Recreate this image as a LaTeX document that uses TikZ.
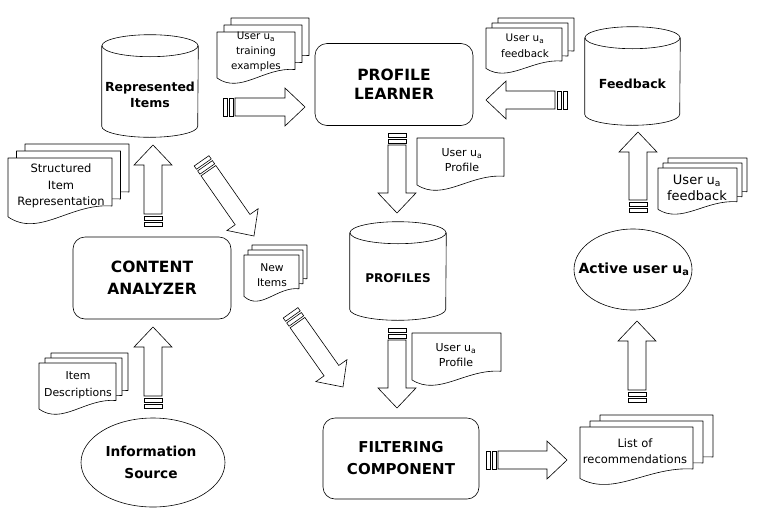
\documentclass[tikz,border=0pt]{standalone}
\usepackage{fontspec}
\setmainfont{DejaVu Sans}
\usetikzlibrary{shapes.geometric,calc,positioning}

% one page of a document, l t r b (b = lowest point of the wave)
\newcommand{\docpage}[4]{%
  \draw[page] ({#1},{#2}) -- ({#3},{#2}) -- ({#3},{(#4)-0.25*((#4)-(#2))})
    .. controls ({(#1)+0.6*((#3)-(#1))},{(#4)-0.3*((#4)-(#2))})
       and ({(#1)+0.3*((#3)-(#1))},{(#4)+0.25*((#4)-(#2))})
    .. ({#1},{(#4)-0.08*((#4)-(#2))}) -- cycle;}
% three pages, shifted by dx dy
\newcommand{\docstack}[6]{%
  \docpage{(#1)+2*(#5)}{(#2)-2*(#6)}{(#3)+2*(#5)}{(#4)-2*(#6)}
  \docpage{(#1)+(#5)}{(#2)-(#6)}{(#3)+(#5)}{(#4)-(#6)}
  \docpage{#1}{#2}{#3}{#4}}
% drum outline round a store node, #2 = half width
\newcommand{\drum}[2]{%
  \draw ([yshift=-11pt]#1.north west) -- ([yshift=11pt]#1.south west)
    arc[start angle=180,end angle=360,x radius=#2pt,y radius=11pt]
    -- ([yshift=-11pt]#1.north east);
  \draw ([yshift=-11pt]#1.north) ellipse[x radius=#2pt,y radius=11pt];}
% big arrow with striped tail
\newcommand{\bigarrow}[2]{%
  \path let \p1=($(#2)-(#1)$) in
    \pgfextra{\pgfmathsetmacro\arrowang{atan2(\y1,\x1)}%
      \pgfmathsetmacro\arrowlen{veclen(\x1,\y1)}%
      \xdef\arrowang{\arrowang}\xdef\arrowlen{\arrowlen}};
  \begin{scope}[shift={(#1)},rotate=\arrowang,x=1pt,y=1pt]
    \draw[blockarrow] (1,-9) rectangle (5,9);
    \draw[blockarrow] (7,-9) rectangle (11,9);
    \draw[blockarrow] (13,-9) -- (\arrowlen-20,-9) -- (\arrowlen-20,-19)
      -- (\arrowlen,0) -- (\arrowlen-20,19) -- (\arrowlen-20,9) -- (13,9) -- cycle;
  \end{scope}}

\begin{document}
\begin{tikzpicture}
  [x=1pt,y=-1pt,line width=0.6pt,
   box/.style={draw,rounded corners=12pt,minimum width=158pt,minimum height=82pt,
     align=center,font=\bfseries\fontsize{15.5}{20}\selectfont},
   store/.style={minimum width=96pt,minimum height=98pt,inner sep=0pt},
   oval/.style={draw,ellipse,inner sep=0pt},
   bigtext/.style={align=center,font=\bfseries\fontsize{12.5}{16.5}\selectfont},
   doctext/.style={align=center,font=\fontsize{10.5}{15}\selectfont},
   page/.style={draw,fill=white,line join=round},
   blockarrow/.style={draw,fill=white,line join=miter}]
  \useasboundingbox[fill=white] (0,0) rectangle (771,520);

  % stores
  \node[store,minimum height=102pt] (items) at (150,86) {};
  \drum{items}{48}
  \node[bigtext] (items-t) at ([yshift=-9pt]items.center) {Represented\\Items};
  \node[store,minimum width=95pt] (feedback) at (632.5,76) {};
  \drum{feedback}{47.5}
  \node[bigtext] (feedback-t) at ([yshift=-8pt]feedback.center) {Feedback};
  \node[store] (profiles) at (398,271) {};
  \drum{profiles}{48}
  \node[bigtext,font=\bfseries\fontsize{12}{15}\selectfont] (profiles-t) at ([yshift=-7pt]profiles.center) {PROFILES};

  % components
  \node[box,font=\bfseries\fontsize{15.5}{19}\selectfont] (learner) at (394,84.5) {PROFILE\\LEARNER};
  \node[box,font=\bfseries\fontsize{15.5}{22}\selectfont] (analyzer) at (152,278) {CONTENT\\ANALYZER};
  \node[box,minimum width=156pt,minimum height=81pt,font=\bfseries\fontsize{15}{22}\selectfont]
    (filtering) at (401,458.5) {FILTERING\\COMPONENT};

  \node[oval,minimum width=144pt,minimum height=89pt] (source) at (153,462.5) {};
  \node[bigtext,font=\bfseries\fontsize{13.7}{21.5}\selectfont] (source-t) at ([xshift=-2pt]source.center) {Information\\Source};
  \node[oval,minimum width=118pt,minimum height=81pt] (active) at (633,269.5) {};
  \node[bigtext,font=\bfseries\fontsize{14}{18}\selectfont] (active-t) at ([xshift=1pt]active.center) {Active user u\textsubscript{a}};

  % documents
  \docstack{217}{32}{295}{82}{7}{7}
  \node[doctext,font=\fontsize{10.3}{15}\selectfont] (train) at (256,52) {User u\textsubscript{a}\\training\\examples};
  \docstack{486}{28}{562}{72}{6}{5}
  \node[doctext,font=\fontsize{10.4}{15.5}\selectfont] (fb-top) at (525,46) {User u\textsubscript{a}\\feedback};
  \docpage{417}{138}{504}{189}
  \node[doctext,font=\fontsize{11}{15}\selectfont] (prof-top) at (462,160) {User u\textsubscript{a}\\Profile};
  \docstack{658}{168}{737}{213}{5}{5}
  \node[doctext,font=\fontsize{13}{15.7}\selectfont] (fb-right) at (697,188) {User u\textsubscript{a}\\feedback};
  \docstack{8}{158}{112}{222}{8.5}{7}
  \node[doctext,font=\fontsize{11.5}{16.7}\selectfont] (structured) at (61,186) {Structured\\Item\\Representation};
  \docstack{244}{255}{299}{300}{4}{5}
  \node[doctext,font=\fontsize{10.7}{15}\selectfont] (newitems) at (272,275) {New\\Items};
  \docpage{412}{333}{501}{384}
  \node[doctext,font=\fontsize{11}{15}\selectfont] (prof-low) at (456,355) {User u\textsubscript{a}\\Profile};
  \docstack{580}{427}{693}{483}{10}{6}
  \node[doctext,font=\fontsize{11.5}{15.7}\selectfont] (list) at (635,451) {List of\\recommendations};
  \docstack{39}{363}{116}{413}{6}{5}
  \node[doctext,font=\fontsize{10.9}{16.7}\selectfont] (itemdesc) at (78,385) {Item\\Descriptions};

  % arrow ends
  \coordinate (source-out) at (153,409);
  \coordinate (analyzer-in) at (153,327);
  \coordinate (analyzer-out) at (153,227);
  \coordinate (items-in) at (153,145);
  \coordinate (items-out) at (222,107);
  \coordinate (learner-in) at (305,107);
  \coordinate (feedback-out) at (568,100);
  \coordinate (learner-in2) at (486,100);
  \coordinate (learner-out) at (397,132);
  \coordinate (profiles-in) at (397,213);
  \coordinate (profiles-out) at (397,327);
  \coordinate (filtering-in) at (397,408);
  \coordinate (filtering-out) at (485,460);
  \coordinate (list-in) at (567,460);
  \coordinate (list-out) at (637,403);
  \coordinate (active-in) at (637,321);
  \coordinate (active-out) at (638,213);
  \coordinate (feedback-in) at (638,132);
  \coordinate (items-out2) at (201,160);
  \coordinate (newitems-in) at (254,236);
  \coordinate (newitems-out) at (290,312);
  \coordinate (filtering-in2) at (343,387);

  \foreach \from/\to in {source-out/analyzer-in,analyzer-out/items-in,items-out/learner-in,
      feedback-out/learner-in2,learner-out/profiles-in,profiles-out/filtering-in,
      filtering-out/list-in,list-out/active-in,active-out/feedback-in,
      items-out2/newitems-in,newitems-out/filtering-in2}
    {\bigarrow{\from}{\to}}
\end{tikzpicture}
\end{document}
